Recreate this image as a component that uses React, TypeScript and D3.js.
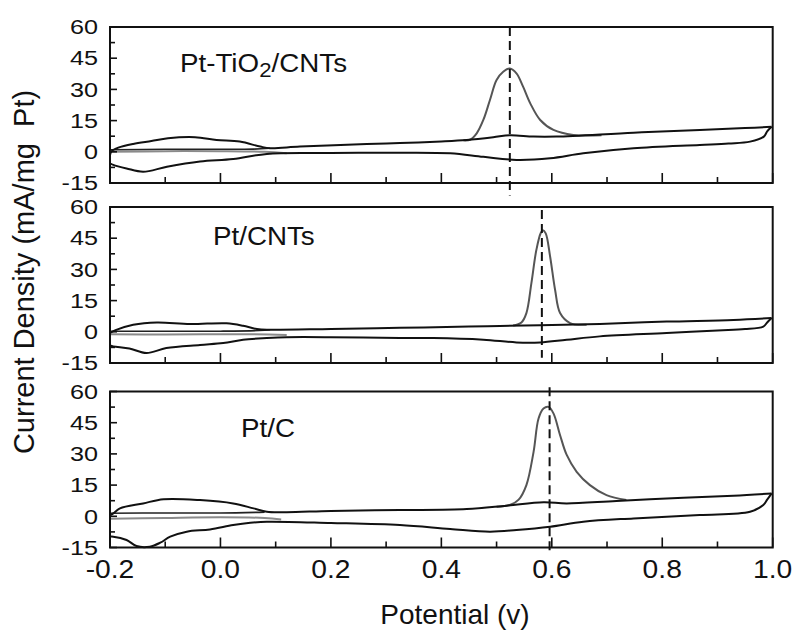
import React from 'react';
import * as d3 from 'd3';

type Pt = [number, number];

const xTicksMajor = [-0.2, 0.0, 0.2, 0.4, 0.6, 0.8, 1.0];
const xTicksMinor = [-0.1, 0.1, 0.3, 0.5, 0.7, 0.9];
const yTicksMajor = [60, 45, 30, 15, 0, -15];
const yTicksMinor = [52.5, 37.5, 22.5, 7.5, -7.5];

const peakPotentials = [0.524, 0.582, 0.596];

// Pt-TiO2/CNTs
const tiUpper: Pt[] = [[-0.2,-1.5],[-0.197,0.3],[-0.185,2.0],[-0.158,3.8],[-0.125,5.2],[-0.095,6.5],[-0.046,7.0],[-0.007,5.7],[0.035,4.9],[0.072,2.5],[0.09,1.7],[0.144,2.5],[0.265,3.7],[0.325,4.2],[0.4,5.0],[0.446,5.7],[0.494,7.0],[0.524,8.0],[0.567,7.3],[0.609,7.3],[0.748,9.2],[0.868,10.5],[0.95,11.4],[0.998,12.0]];
const tiLower: Pt[] = [[0.998,12.0],[0.99,9.8],[0.984,7.3],[0.959,4.9],[0.92,4.0],[0.868,3.3],[0.748,1.7],[0.657,-0.7],[0.597,-3.1],[0.536,-3.9],[0.476,-2.4],[0.416,-0.7],[0.325,-0.4],[0.2,-0.6],[0.084,-1.0],[0.023,-3.5],[-0.037,-4.7],[-0.097,-7.2],[-0.14,-9.6],[-0.17,-8.0],[-0.194,-6.3],[-0.2,-5.5]];
const tiInnerDark: Pt[] = [[-0.2,1.0],[-0.1,1.2],[0.0,1.2],[0.06,1.3],[0.09,1.7]];
const tiInnerGray: Pt[] = [[-0.2,0.0],[-0.1,0.3],[0.0,0.3],[0.08,0.0],[0.12,-0.7]];
const tiPeak: Pt[] = [[0.44,5.5],[0.452,5.8],[0.464,8.9],[0.476,15.3],[0.488,24.9],[0.5,34.5],[0.512,38.5],[0.524,40.0],[0.536,37.7],[0.548,31.3],[0.561,23.3],[0.579,15.3],[0.603,10.5],[0.639,8.1],[0.69,8.0]];

// Pt/CNTs
const cntUpper: Pt[] = [[-0.2,-0.5],[-0.19,0.8],[-0.158,3.4],[-0.115,4.5],[-0.055,3.7],[0.011,4.1],[0.041,2.9],[0.066,1.3],[0.09,1.0],[0.2,1.4],[0.325,1.9],[0.45,2.5],[0.506,2.8],[0.579,3.2],[0.687,3.8],[0.808,4.9],[0.929,5.7],[0.998,6.6]];
const cntLower: Pt[] = [[0.998,6.6],[0.99,4.5],[0.983,2.5],[0.95,1.3],[0.929,1.0],[0.808,-0.6],[0.687,-2.2],[0.627,-3.8],[0.579,-5.1],[0.536,-5.1],[0.476,-3.8],[0.385,-3.0],[0.325,-3.0],[0.2,-2.6],[0.12,-2.6],[0.084,-3.0],[0.041,-3.8],[0.005,-5.4],[-0.037,-6.3],[-0.098,-7.8],[-0.134,-10.2],[-0.165,-8.0],[-0.194,-7.0],[-0.2,-6.5]];
const cntInnerDark: Pt[] = [[-0.2,0.3],[-0.1,0.3],[0.0,0.3],[0.07,0.6],[0.09,1.0]];
const cntInnerGray: Pt[] = [[-0.2,-1.2],[-0.1,-1.3],[0.05,-1.2],[0.12,-1.5]];
const cntPeak: Pt[] = [[0.53,3.0],[0.545,4.5],[0.554,9.0],[0.563,23.3],[0.572,39.3],[0.58,47.5],[0.584,48.8],[0.589,47.3],[0.597,36.1],[0.606,20.1],[0.615,9.0],[0.633,4.2],[0.663,3.4]];

// Pt/C
const cUpper: Pt[] = [[-0.2,0.5],[-0.194,1.4],[-0.182,3.8],[-0.14,6.2],[-0.103,8.2],[-0.037,7.8],[0.023,6.2],[0.06,3.8],[0.084,2.2],[0.12,2.0],[0.2,2.6],[0.325,3.0],[0.446,3.5],[0.518,5.1],[0.585,6.7],[0.627,6.2],[0.717,7.4],[0.838,8.9],[0.929,9.9],[0.998,11.0]];
const cLower: Pt[] = [[0.998,11.0],[0.99,8.0],[0.983,5.4],[0.959,2.2],[0.868,0.6],[0.748,-1.0],[0.657,-2.6],[0.597,-5.0],[0.536,-6.6],[0.488,-7.4],[0.416,-6.1],[0.325,-4.2],[0.2,-3.2],[0.084,-2.6],[0.054,-3.1],[0.023,-4.2],[-0.019,-6.3],[-0.061,-7.4],[-0.091,-9.8],[-0.109,-12.7],[-0.128,-14.6],[-0.152,-14.3],[-0.17,-11.4],[-0.194,-9.8],[-0.2,-9.8]];
const cInnerDark: Pt[] = [[-0.2,1.5],[-0.1,1.6],[0.0,1.6],[0.08,2.0]];
const cInnerGray: Pt[] = [[-0.2,-1.2],[-0.1,-0.8],[0.0,-0.5],[0.08,-0.8],[0.11,-1.5]];
const cPeak: Pt[] = [[0.5,4.6],[0.524,5.4],[0.54,8.0],[0.554,15.0],[0.567,31.0],[0.576,47.0],[0.585,51.8],[0.594,52.6],[0.603,49.5],[0.615,39.0],[0.627,29.5],[0.645,21.4],[0.669,15.0],[0.699,10.2],[0.735,7.8]];

const panels = [
  { upper: tiUpper, lower: tiLower, innerDark: tiInnerDark, innerGray: tiInnerGray, peak: tiPeak, dashRange: [60, -21], label: { x: 180, y: 72, sub: true, text: ['Pt-TiO', '2', '/CNTs'] } },
  { upper: cntUpper, lower: cntLower, innerDark: cntInnerDark, innerGray: cntInnerGray, peak: cntPeak, dashRange: [58.5, -12.5], label: { x: 213, y: 245, sub: false, text: ['Pt/CNTs'] } },
  { upper: cUpper, lower: cLower, innerDark: cInnerDark, innerGray: cInnerGray, peak: cPeak, dashRange: [62, -18.5], label: { x: 241, y: 437, sub: false, text: ['Pt/C'] } },
];

const W = 792, H = 631;
const X0 = 110, X1 = 772.7;
const panelTops = [27, 207, 391.5];
const PH = 156;
const FONT = '"Liberation Sans", Arial, Helvetica, sans-serif';

const fmtX = (v: number) => v.toFixed(1).replace('\u2212', '-');
const fmtY = (v: number) => String(v);

export default function App() {
  const x = d3.scaleLinear().domain([-0.2, 1.0]).range([X0, X1]);
  return (
    <svg width={W} height={H} style={{ position: 'absolute', left: 0, top: 0, background: '#fff' }} fontFamily={FONT}>
      <rect x={0} y={0} width={W} height={H} fill="#fff" />
      {panels.map((p, i) => {
        const top = panelTops[i];
        const y = d3.scaleLinear().domain([-15, 60]).range([top + PH, top]);
        const line = d3.line<Pt>().x(d => x(d[0])).y(d => y(d[1])).curve(d3.curveCatmullRom.alpha(0.5));
        const px = x(peakPotentials[i]);
        return (
          <g key={i}>
            <path d={line(p.innerGray) || ''} fill="none" stroke="#8a8a8a" strokeWidth={2} />
            <path d={line(p.innerDark) || ''} fill="none" stroke="#222" strokeWidth={1.6} />
            <path d={line(p.peak) || ''} fill="none" stroke="#555" strokeWidth={2} />
            <path d={line(p.upper) || ''} fill="none" stroke="#111" strokeWidth={2} />
            <path d={line(p.lower) || ''} fill="none" stroke="#111" strokeWidth={2} />
            <line x1={X0} x2={X0} y1={y(1)} y2={y(-7)} stroke="#222" strokeWidth={1.5} />
            <line x1={px} x2={px} y1={y(p.dashRange[0])} y2={y(p.dashRange[1])} stroke="#111" strokeWidth={2} strokeDasharray="9,5" />
            <rect x={X0} y={top} width={X1 - X0} height={PH} fill="none" stroke="#111" strokeWidth={2} />
            {xTicksMajor.map(t => (
              <line key={'xM' + t} x1={x(t)} x2={x(t)} y1={top + PH} y2={top + PH - 10} stroke="#111" strokeWidth={1.6} />
            ))}
            {xTicksMinor.map(t => (
              <line key={'xm' + t} x1={x(t)} x2={x(t)} y1={top + PH} y2={top + PH - 6} stroke="#111" strokeWidth={1.6} />
            ))}
            {yTicksMajor.map(t => (
              <line key={'yM' + t} x1={X0} x2={X0 + 7} y1={y(t)} y2={y(t)} stroke="#111" strokeWidth={1.6} />
            ))}
            {yTicksMinor.map(t => (
              <line key={'ym' + t} x1={X0} x2={X0 + 5} y1={y(t)} y2={y(t)} stroke="#111" strokeWidth={1.6} />
            ))}
            {yTicksMajor.map(t => (
              <text key={'yl' + t} transform={`translate(98,${y(t)}) scale(1.2,1)`} textAnchor="end" dominantBaseline="central" fontSize={21} fill="#111">
                {fmtY(t)}
              </text>
            ))}
            <text transform={`translate(${p.label.x},${p.label.y}) scale(1.11,1)`} fontSize={25} fill="#111">
              {p.label.sub ? (
                <>
                  <tspan>{p.label.text[0]}</tspan>
                  <tspan dy={5} fontSize={20}>{p.label.text[1]}</tspan>
                  <tspan dy={-5}>{p.label.text[2]}</tspan>
                </>
              ) : p.label.text[0]}
            </text>
          </g>
        );
      })}
      {xTicksMajor.map(t => (
        <text key={'xl' + t} transform={`translate(${x(t)},578) scale(1.13,1)`} textAnchor="middle" fontSize={25} fill="#111">
          {fmtX(t)}
        </text>
      ))}
      <text x={455} y={624} textAnchor="middle" fontSize={28} fill="#111">Potential (v)</text>
      <text transform="translate(34,272) rotate(-90)" textAnchor="middle" fontSize={29} fill="#111" style={{ whiteSpace: 'pre' }}>
        {'Current Density (mA/mg  Pt)'}
      </text>
    </svg>
  );
}
